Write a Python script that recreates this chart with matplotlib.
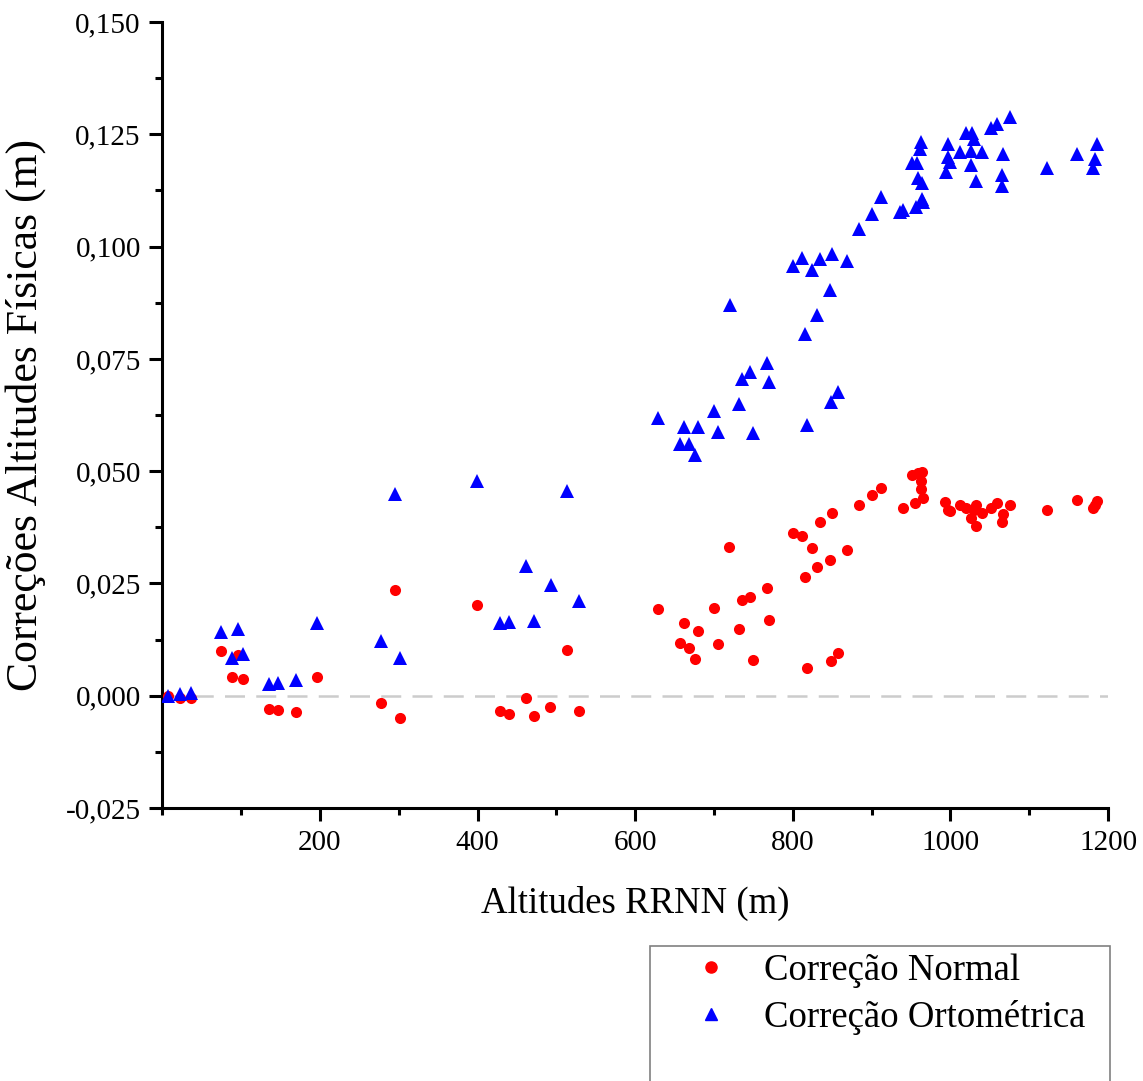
import matplotlib
matplotlib.use("Agg")
import matplotlib.pyplot as plt
from matplotlib.lines import Line2D
from matplotlib.patches import Rectangle
from matplotlib.ticker import FuncFormatter, MultipleLocator

plt.rcParams['font.family'] = ['Liberation Serif', 'DejaVu Serif']

# Correção Normal (red circles)
normal_x = [7, 22, 36, 74, 88, 96, 103, 135, 147, 170, 196, 278, 295, 302,
            399, 428, 440, 462, 472, 492, 513, 529,
            629, 657, 662, 668, 676, 680, 700, 705, 719, 732, 736, 746, 750,
            767, 770, 800, 812, 816, 818, 824, 831, 834, 847, 848, 850, 858,
            869, 884, 900, 912, 940, 951, 955, 959, 963, 963, 964, 965,
            993, 997, 1000, 1012, 1020, 1026, 1030, 1032, 1033, 1040, 1051,
            1059, 1065, 1067, 1076, 1122, 1161, 1181, 1184, 1186]
normal_y = [0.0000, -0.0004, -0.0006, 0.0100, 0.0042, 0.0090, 0.0037,
            -0.0030, -0.0032, -0.0036, 0.0042, -0.0017, 0.0235, -0.0050,
            0.0201, -0.0034, -0.0041, -0.0005, -0.0045, -0.0025, 0.0101, -0.0034,
            0.0194, 0.0118, 0.0163, 0.0106, 0.0081, 0.0144, 0.0196, 0.0116,
            0.0331, 0.0148, 0.0213, 0.0220, 0.0079, 0.0239, 0.0169, 0.0363,
            0.0356, 0.0265, 0.0062, 0.0330, 0.0287, 0.0387, 0.0302, 0.0077,
            0.0408, 0.0096, 0.0325, 0.0424, 0.0446, 0.0463, 0.0419, 0.0491,
            0.0430, 0.0497, 0.0478, 0.0460, 0.0499, 0.0441,
            0.0432, 0.0414, 0.0411, 0.0425, 0.0417, 0.0395, 0.0414, 0.0424,
            0.0378, 0.0408, 0.0417, 0.0429, 0.0386, 0.0404, 0.0424, 0.0414,
            0.0435, 0.0417, 0.0425, 0.0434]

# Correção Ortométrica (blue triangles)
orto_x = [7, 22, 36, 74, 88, 96, 103, 135, 147, 170, 196, 278, 295, 302,
          399, 428, 440, 462, 472, 493, 513, 529,
          629, 657, 662, 668, 676, 680, 700, 705, 720, 732, 736, 746, 750,
          767, 770, 800, 812, 816, 818, 824, 831, 834, 847, 848, 850, 858,
          869, 884, 900, 912, 936, 940, 951, 956, 958, 959, 962, 963, 964,
          964, 965, 994, 997, 997, 1000, 1012, 1020, 1026, 1026, 1027, 1030,
          1033, 1040, 1051, 1059, 1066, 1066, 1067, 1076, 1122, 1161, 1181,
          1184, 1186]
orto_y = [0.0000, 0.0003, 0.0007, 0.0143, 0.0085, 0.0148, 0.0092,
          0.0026, 0.0029, 0.0035, 0.0163, 0.0122, 0.0449, 0.0083,
          0.0478, 0.0161, 0.0164, 0.0288, 0.0167, 0.0246, 0.0456, 0.0210,
          0.0619, 0.0561, 0.0599, 0.0560, 0.0536, 0.0599, 0.0633, 0.0587,
          0.0869, 0.0649, 0.0706, 0.0720, 0.0584, 0.0740, 0.0699, 0.0957,
          0.0974, 0.0805, 0.0602, 0.0949, 0.0847, 0.0972, 0.0903, 0.0654,
          0.0983, 0.0677, 0.0967, 0.1040, 0.1072, 0.1111, 0.1076, 0.1081,
          0.1186, 0.1089, 0.1186, 0.1153, 0.1218, 0.1232, 0.1141, 0.1107,
          0.1100, 0.1166, 0.1229, 0.1200, 0.1189, 0.1211, 0.1252, 0.1214,
          0.1182, 0.1252, 0.1239, 0.1146, 0.1211, 0.1263, 0.1272, 0.1159,
          0.1135, 0.1206, 0.1289, 0.1176, 0.1206, 0.1176, 0.1196, 0.1229]

y_ticks = [-0.025, 0.0, 0.025, 0.05, 0.075, 0.1, 0.125, 0.15]
x_ticks = [200, 400, 600, 800, 1000, 1200]

W, H = 1143, 1081
fig = plt.figure(figsize=(W / 100, H / 100), dpi=100)
ax = fig.add_axes([0.142, 0.2525, 0.8274, 0.7271])

ax.axhline(0, color='#cccccc', lw=1.8, dashes=(8, 4.5), zorder=1)
ax.plot(normal_x, normal_y, 'o', color='red', ms=8, mew=0, zorder=3)
ax.plot(orto_x, orto_y, '^', color='blue', ms=9.5, mew=0, zorder=3)

ax.set_xlim(0, 1200)
ax.set_ylim(-0.025, 0.150)
ax.set_xticks(x_ticks)
ax.set_yticks(y_ticks)
ax.xaxis.set_minor_locator(MultipleLocator(100))
ax.yaxis.set_minor_locator(MultipleLocator(0.0125))
ax.yaxis.set_major_formatter(FuncFormatter(lambda v, p: f'{v:.3f}'.replace('.', ',')))

for side in ['top', 'right']:
    ax.spines[side].set_visible(False)
for side in ['left', 'bottom']:
    ax.spines[side].set_linewidth(2.2)

ax.tick_params(axis='both', which='major', length=9.5, width=2.2, labelsize=21)
ax.tick_params(axis='both', which='minor', length=5, width=2.2)
ax.tick_params(axis='y', which='major', pad=6)
ax.tick_params(axis='x', which='major', pad=6)

ax.set_xlabel('Altitudes RRNN (m)', fontsize=26.5, labelpad=22)
ax.set_ylabel('Correções Altitudes Físicas (m)', fontsize=31.5, labelpad=14)

handles = [Line2D([], [], ls='none', marker='o', color='red', ms=8),
           Line2D([], [], ls='none', marker='^', color='blue', ms=9)]
leg = fig.legend(handles, ['Correção Normal', 'Correção Ortométrica'],
                 loc='upper left', bbox_to_anchor=(650 / W, 1 - 946 / H),
                 fontsize=26.5, frameon=False, borderpad=0.2,
                 handletextpad=0.0, handlelength=2.9, labelspacing=0.34,
                 borderaxespad=0)

# legend box, open at the bottom edge of the figure as in the original
fig.patches.append(Rectangle((650 / W, -0.02), 460 / W, (H - 946) / H + 0.02,
                             transform=fig.transFigure, fill=False,
                             edgecolor='#808080', linewidth=1.2))

fig.savefig('out.png', dpi=100)
